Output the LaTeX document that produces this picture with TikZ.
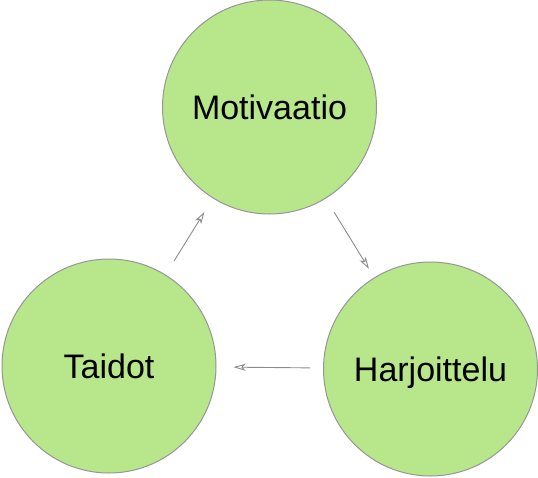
\documentclass[tikz,border=0pt]{standalone}
\usepackage{fontspec}
\setmainfont{Liberation Sans}
\usetikzlibrary{arrows.meta}
\definecolor{cfill}{RGB}{184,230,138}
\definecolor{cline}{RGB}{150,150,150}
\definecolor{aline}{RGB}{140,140,140}
\tikzset{
  bubble/.style={circle, draw=cline, fill=cfill, line width=1pt, minimum size=214pt, inner sep=0pt, text height=24.4pt, text depth=0pt, font=\fontsize{34}{40}\selectfont},
  link/.style={draw=aline, line width=0.9pt, -{Stealth[open, length=12pt, width=7pt, inset=3pt]}, shorten <=16pt, shorten >=16pt}
}
\begin{document}
\begin{tikzpicture}[x=1pt,y=-1pt]
\useasboundingbox (0,0) rectangle (538,477);
\node[bubble] (mot) at (269.5,107) {Motivaatio};
\node[bubble] (tai) at (109,366) {Taidot};
\node[bubble] (har) at (430.5,369) {Harjoittelu};
\draw[link] (tai) -- (mot);
\draw[link, shorten >=10pt] (mot) -- (har);
\draw[link, shorten <=13pt, shorten >=17pt] (har) -- (tai);
\end{tikzpicture}
\end{document}
